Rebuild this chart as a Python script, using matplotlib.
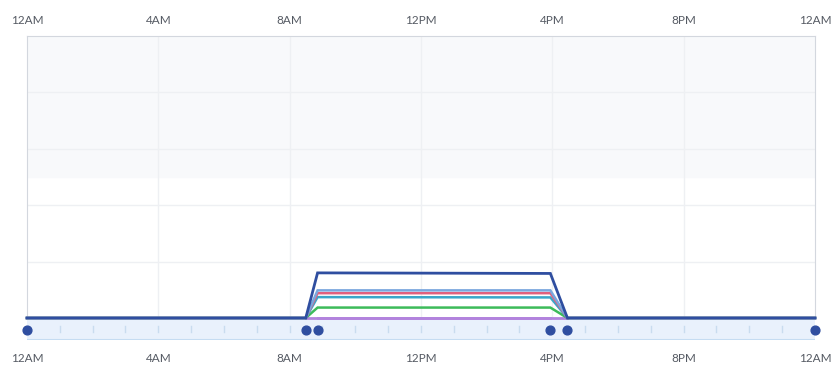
import numpy as np
import matplotlib.pyplot as plt

plt.rcParams['font.family'] = ['Lato', 'DejaVu Sans']

# hours since midnight
hours = [0, 8.49, 8.85, 15.94, 16.46, 24]
series = {
    'total':  ([0, 0, 16.0, 15.8, 0, 0], '#2f4ea0', 2.0),
    'a':      ([0, 0, 9.8, 9.8, 0, 0], '#7aa7de', 1.8),
    'b':      ([0, 0, 8.8, 8.8, 0, 0], '#e0607e', 1.8),
    'c':      ([0, 0, 7.4, 7.3, 0, 0], '#3aa6c9', 1.8),
    'd':      ([0, 0, 3.7, 3.7, 0, 0], '#3dbb5a', 1.8),
    'e':      ([0, 0, 0, 0, 0, 0], '#b283dd', 2.0),
}
event_hours = [0, 8.49, 8.85, 15.94, 16.46, 24]
tick_hours = [0, 4, 8, 12, 16, 20, 24]
tick_labels = ['12AM', '4AM', '8AM', '12PM', '4PM', '8PM', '12AM']

W, H = 840, 379
fig = plt.figure(figsize=(W / 100, H / 100), dpi=100)
L, R = 27 / W, 815 / W
ax = fig.add_axes([L, 1 - 318 / H, R - L, (318 - 36) / H])
band = fig.add_axes([L, 1 - 340 / H, R - L, (340 - 318) / H])
ax.set_zorder(2)
ax.patch.set_alpha(0)

ax.set_xlim(0, 24)
ax.set_ylim(0, 100)
ax.axhspan(50, 100, color='#f8f9fb', zorder=0)
for y in [20, 40, 60, 80]:
    ax.axhline(y, color='#eef0f3', lw=1, zorder=1)
for x in tick_hours[1:-1]:
    ax.axvline(x, color='#eef0f3', lw=1, zorder=1)

# zero-level parts: purple only shows where the total is lifted
vals, col, lw = series['e']
ax.plot(hours[1:5], vals[1:5], color=col, lw=lw, zorder=3, clip_on=False)
for name in ['d', 'c', 'b', 'a', 'total']:
    vals, col, lw = series[name]
    ax.plot(hours, vals, color=col, lw=lw, zorder=3, solid_joinstyle='miter',
            clip_on=False)
vals, col, lw = series['e']
ax.plot(hours[2:4], vals[2:4], color=col, lw=lw, zorder=4, clip_on=False)

for s in ['left', 'right', 'top']:
    ax.spines[s].set_color('#d3d7de')
ax.spines['bottom'].set_visible(False)
ax.set_yticks([])
ax.set_xticks(tick_hours)
ax.set_xticklabels(tick_labels)
ax.tick_params(axis='x', top=True, labeltop=True, bottom=False, labelbottom=False,
               length=0, pad=7, labelsize=8.5, labelcolor='#555a63')

band.set_xlim(0, 24)
band.set_ylim(0, 1)
band.set_facecolor('#e9f1fc')
for s in band.spines.values():
    s.set_visible(False)
band.axhline(0, color='#c5dcf2', lw=1.5)
band.set_yticks([])
band.set_xticks(tick_hours)
band.set_xticklabels(tick_labels)
band.tick_params(axis='x', length=0, pad=9, labelsize=8.5, labelcolor='#555a63')
for h in range(1, 24):
    band.plot([h, h], [0.38, 0.62], color='#c9dcef', lw=1)
band.scatter(event_hours, [0.45] * len(event_hours), s=40, color='#2f4ea0',
             zorder=5, clip_on=False)

fig.savefig('out.png', dpi=100)
